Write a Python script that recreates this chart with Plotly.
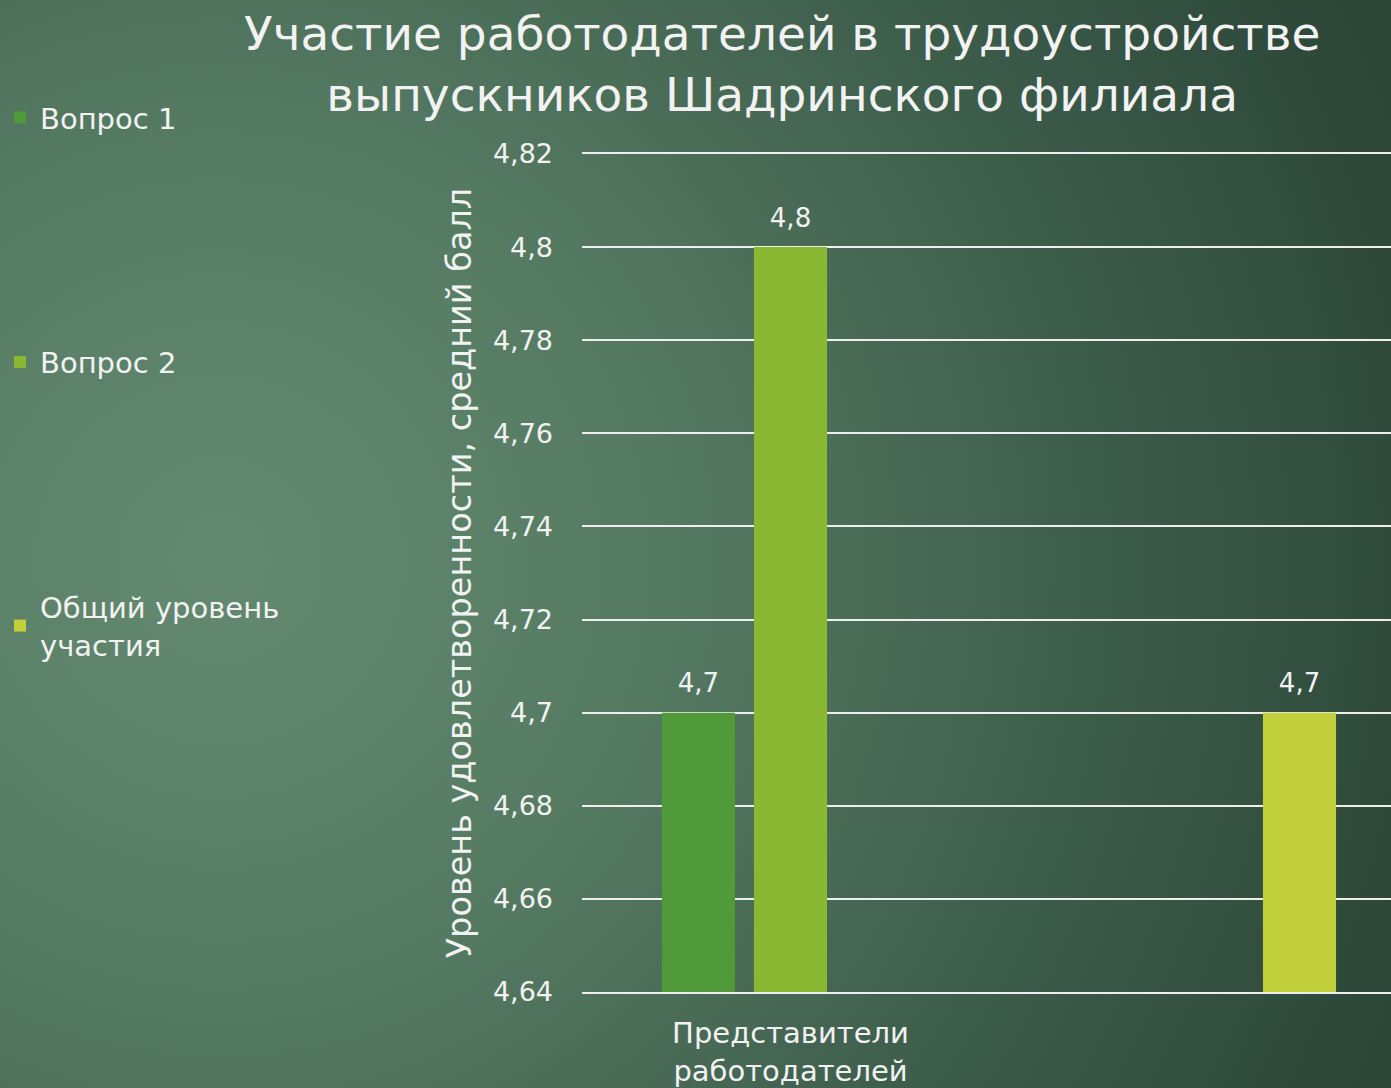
import base64
import plotly.graph_objects as go

categories = ["Представители<br>работодателей", ""]
series_names = ["Вопрос 1", "Вопрос 2", "Общий уровень<br>участия"]
q1_values = [4.7, None]
q2_values = [4.8, None]
total_values = [None, 4.7]
series_colors = ["#519a39", "#8bb833", "#c2d13b"]
y_tickvals = [4.64, 4.66, 4.68, 4.70, 4.72, 4.74, 4.76, 4.78, 4.80, 4.82]
y_ticktext = ["4,64", "4,66", "4,68", "4,7", "4,72", "4,74", "4,76", "4,78", "4,8", "4,82"]

W, H = 1391, 1088
ML, MR, MT, MB = 582, 0, 154, 96
FONT = "DejaVu Sans"
TXT = "#f2f2f2"

x_pos = list(range(len(categories)))

fig = go.Figure()
for name, vals, col in zip(series_names, [q1_values, q2_values, total_values], series_colors):
    fig.add_trace(go.Bar(
        x=x_pos, y=vals, name=name, marker_color=col, marker_line_width=0,
        texttemplate="<span style='font-size:26px'>%{y:.1f}</span><br> ",
        textposition="outside",
        textfont=dict(size=11, color=TXT, family=FONT),
        legendgroup=name, cliponaxis=False,
    ))

svg = f'''<svg xmlns="http://www.w3.org/2000/svg" width="{W}" height="{H}" viewBox="0 0 {W} {H}" preserveAspectRatio="none">
<defs><radialGradient id="g" cx="220" cy="560" r="1250" gradientUnits="userSpaceOnUse">
<stop offset="0" stop-color="#638a70"/>
<stop offset="0.35" stop-color="#557a62"/>
<stop offset="0.7" stop-color="#3d5d4b"/>
<stop offset="1" stop-color="#2c4637"/>
</radialGradient></defs>
<rect width="{W}" height="{H}" fill="url(#g)"/></svg>'''
uri = "data:image/svg+xml;base64," + base64.b64encode(svg.encode()).decode()

pw, ph = W - ML - MR, H - MT - MB
fig.add_layout_image(dict(
    source=uri, xref="paper", yref="paper",
    x=-ML / pw, y=1 + MT / ph, sizex=W / pw, sizey=H / ph,
    xanchor="left", yanchor="top", sizing="stretch", layer="below",
))

fig.add_annotation(
    text="Участие работодателей в трудоустройстве<br>выпускников Шадринского филиала",
    xref="paper", yref="paper", x=(782 - ML) / pw, y=1 + (MT - 4) / ph,
    xanchor="center", yanchor="top", showarrow=False,
    font=dict(size=47, color=TXT, family=FONT),
)

fig.update_layout(
    width=W, height=H,
    margin=dict(l=ML, r=MR, t=MT, b=MB),
    paper_bgcolor="#4a6b56", plot_bgcolor="rgba(0,0,0,0)",
    separators=", ",
    font=dict(family=FONT, color=TXT),
    barmode="group", bargap=0.338, bargroupgap=0.206,
    legend=dict(
        xref="container", yref="container", x=0, y=1 - 92 / H,
        xanchor="left", yanchor="top",
        font=dict(size=29, color=TXT, family=FONT),
        tracegroupgap=204, traceorder="grouped",
        bgcolor="rgba(0,0,0,0)", maxheight=900,
    ),
    xaxis=dict(
        range=[-0.5, -0.5 + pw / 417], tickvals=x_pos, ticktext=categories,
        showgrid=False, zeroline=False, ticks="",
        showline=True, mirror=True, linecolor="#eeeeee", linewidth=2,
        tickfont=dict(size=29, color=TXT, family=FONT),
        ticklabelstandoff=14, automargin=False,
    ),
    yaxis=dict(
        range=[4.64, 4.82], tickvals=y_tickvals, ticktext=y_ticktext,
        showgrid=True, gridcolor="#eeeeee", gridwidth=2,
        zeroline=False, showline=False, ticks="",
        tickfont=dict(size=27, color=TXT, family=FONT),
        ticklabelstandoff=28, automargin=False,
        title=dict(text="Уровень удовлетворенности, средний балл",
                   font=dict(size=33.5, color=TXT, family=FONT), standoff=11),
    ),
)

fig.write_html("out.html", config={"displayModeBar": False},
               post_script="document.body.style.margin='0';")
